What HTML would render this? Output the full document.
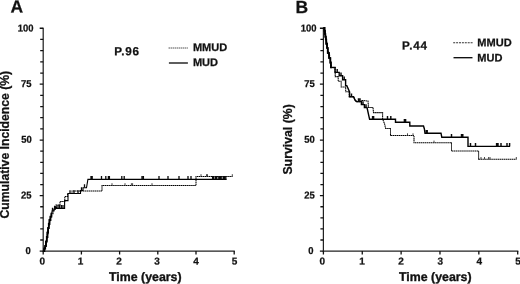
<!DOCTYPE html>
<html lang="en"><head><meta charset="utf-8"><title>Figure</title>
<style>
html,body{margin:0;padding:0;background:#fff;}
body{width:520px;height:284px;overflow:hidden;position:relative;}
</style></head><body>
<svg width="520" height="284" viewBox="0 0 520 284" style="display:block;position:absolute;left:0;top:0">
<rect width="520" height="284" fill="#fff"/>
<g font-family="'Liberation Sans', sans-serif" font-weight="bold" fill="#111" stroke="#111" stroke-width="0.25">
<g stroke="#222" stroke-width="1.25" fill="none">
<path d="M43.20,27.65 V251.70"/>
<path d="M42.60,251.10 H234.80"/>
</g>
<g stroke="#111" stroke-width="1.3" fill="none">
<path d="M39.70,251.10 H43.20 M40.20,240.01 H43.20 M40.20,228.92 H43.20 M40.20,217.83 H43.20 M40.20,206.74 H43.20 M39.70,195.63 H43.20 M40.20,184.53 H43.20 M40.20,173.41 H43.20 M40.20,162.29 H43.20 M40.20,151.16 H43.20 M39.70,140.03 H43.20 M40.20,128.88 H43.20 M40.20,117.72 H43.20 M40.20,106.56 H43.20 M40.20,95.39 H43.20 M39.70,84.21 H43.20 M40.20,73.03 H43.20 M40.20,61.84 H43.20 M40.20,50.64 H43.20 M40.20,39.45 H43.20 M39.70,28.25 H43.20 M43.20,251.10 V254.40 M81.40,251.10 V254.40 M119.60,251.10 V254.40 M157.80,251.10 V254.40 M196.00,251.10 V254.40 M234.20,251.10 V254.40"/>
</g>
<text x="30.80" y="253.90" font-size="10" text-anchor="end" textLength="5.25" lengthAdjust="spacingAndGlyphs" transform="rotate(0.03 30.80 253.90)">0</text>
<text x="31.60" y="198.43" font-size="10" text-anchor="end" textLength="10.51" lengthAdjust="spacingAndGlyphs" transform="rotate(0.03 31.60 198.43)">25</text>
<text x="31.80" y="142.83" font-size="10" text-anchor="end" textLength="10.51" lengthAdjust="spacingAndGlyphs" transform="rotate(0.03 31.80 142.83)">50</text>
<text x="31.60" y="87.01" font-size="10" text-anchor="end" textLength="10.51" lengthAdjust="spacingAndGlyphs" transform="rotate(0.03 31.60 87.01)">75</text>
<text x="33.50" y="31.55" font-size="10" text-anchor="end" textLength="15.76" lengthAdjust="spacingAndGlyphs" transform="rotate(0.03 33.50 31.55)">100</text>
<text x="42.20" y="264.40" font-size="10" text-anchor="middle" transform="rotate(0.03 42.20 264.40)">0</text>
<text x="80.50" y="264.40" font-size="10" text-anchor="middle" transform="rotate(0.03 80.50 264.40)">1</text>
<text x="119.00" y="264.40" font-size="10" text-anchor="middle" transform="rotate(0.03 119.00 264.40)">2</text>
<text x="157.00" y="264.40" font-size="10" text-anchor="middle" transform="rotate(0.03 157.00 264.40)">3</text>
<text x="196.00" y="264.40" font-size="10" text-anchor="middle" transform="rotate(0.03 196.00 264.40)">4</text>
<text x="234.60" y="264.40" font-size="10" text-anchor="middle" transform="rotate(0.03 234.60 264.40)">5</text>
<text x="145.30" y="280.90" font-size="12.35" text-anchor="middle" stroke-width="0.35" transform="rotate(0.03 145.30 280.90)">Time (years)</text>
<text transform="translate(9.0,144.7) rotate(-90)" font-size="12.2" text-anchor="middle">Cumulative Incidence (%)</text>
<g stroke="#222" stroke-width="1.25" fill="none">
<path d="M323.40,27.65 V251.70"/>
<path d="M322.80,251.10 H518.30"/>
</g>
<g stroke="#111" stroke-width="1.3" fill="none">
<path d="M319.90,251.10 H323.40 M320.40,240.01 H323.40 M320.40,228.92 H323.40 M320.40,217.83 H323.40 M320.40,206.74 H323.40 M319.90,195.63 H323.40 M320.40,184.53 H323.40 M320.40,173.41 H323.40 M320.40,162.29 H323.40 M320.40,151.16 H323.40 M319.90,140.03 H323.40 M320.40,128.88 H323.40 M320.40,117.72 H323.40 M320.40,106.56 H323.40 M320.40,95.39 H323.40 M319.90,84.21 H323.40 M320.40,73.03 H323.40 M320.40,61.84 H323.40 M320.40,50.64 H323.40 M320.40,39.45 H323.40 M319.90,28.25 H323.40 M323.40,251.10 V254.40 M362.26,251.10 V254.40 M401.12,251.10 V254.40 M439.98,251.10 V254.40 M478.84,251.10 V254.40 M517.70,251.10 V254.40"/>
</g>
<text x="313.40" y="253.90" font-size="10" text-anchor="end" textLength="5.25" lengthAdjust="spacingAndGlyphs" transform="rotate(0.03 313.40 253.90)">0</text>
<text x="314.70" y="198.43" font-size="10" text-anchor="end" textLength="10.51" lengthAdjust="spacingAndGlyphs" transform="rotate(0.03 314.70 198.43)">25</text>
<text x="314.70" y="142.83" font-size="10" text-anchor="end" textLength="10.51" lengthAdjust="spacingAndGlyphs" transform="rotate(0.03 314.70 142.83)">50</text>
<text x="314.80" y="87.01" font-size="10" text-anchor="end" textLength="10.51" lengthAdjust="spacingAndGlyphs" transform="rotate(0.03 314.80 87.01)">75</text>
<text x="316.50" y="31.55" font-size="10" text-anchor="end" textLength="15.76" lengthAdjust="spacingAndGlyphs" transform="rotate(0.03 316.50 31.55)">100</text>
<text x="322.30" y="264.40" font-size="10" text-anchor="middle" transform="rotate(0.03 322.30 264.40)">0</text>
<text x="361.96" y="264.40" font-size="10" text-anchor="middle" transform="rotate(0.03 361.96 264.40)">1</text>
<text x="401.12" y="264.40" font-size="10" text-anchor="middle" transform="rotate(0.03 401.12 264.40)">2</text>
<text x="440.28" y="264.40" font-size="10" text-anchor="middle" transform="rotate(0.03 440.28 264.40)">3</text>
<text x="479.24" y="264.40" font-size="10" text-anchor="middle" transform="rotate(0.03 479.24 264.40)">4</text>
<text x="518.00" y="264.40" font-size="10" text-anchor="middle" transform="rotate(0.03 518.00 264.40)">5</text>
<text x="435.30" y="280.90" font-size="12.35" text-anchor="middle" stroke-width="0.35" transform="rotate(0.03 435.30 280.90)">Time (years)</text>
<text transform="translate(292.3,139.4) rotate(-90)" font-size="12.3" text-anchor="middle">Survival (%)</text>
<text x="10.60" y="12.50" font-size="17.5" transform="rotate(0.03 10.60 12.50)">A</text>
<text x="295.40" y="13.00" font-size="17.5" transform="rotate(0.03 295.40 13.00)">B</text>
<text x="114.20" y="55.30" font-size="11.7" letter-spacing="0.8" transform="rotate(0.03 114.20 55.30)">P.96</text>
<text x="402.10" y="49.50" font-size="11.7" letter-spacing="0.8" transform="rotate(0.03 402.10 49.50)">P.44</text>
<path d="M168.6,48.0 h19.2" stroke="#333" stroke-width="0.95" stroke-dasharray="1.3 0.7" fill="none"/>
<path d="M168.9,63.0 h19" stroke="#111" stroke-width="1.35" fill="none"/>
<text x="192.90" y="51.10" font-size="11.05" transform="rotate(0.03 192.90 51.10)">MMUD</text>
<text x="192.90" y="66.00" font-size="11.05" transform="rotate(0.03 192.90 66.00)">MUD</text>
<path d="M453.2,42.7 h19.6" stroke="#333" stroke-width="1.15" stroke-dasharray="2 0.9" fill="none"/>
<path d="M453.5,57.7 h19" stroke="#111" stroke-width="1.35" fill="none"/>
<text x="477.30" y="46.20" font-size="11.05" transform="rotate(0.03 477.30 46.20)">MMUD</text>
<text x="477.30" y="61.40" font-size="11.05" transform="rotate(0.03 477.30 61.40)">MUD</text>
</g>
<polyline points="43.4,251.0 44.1,251.0 44.1,249.3 44.7,249.3 44.7,247.7 45.4,247.7 45.4,246.0 45.9,246.0 45.9,243.0 46.5,243.0 46.5,240.0 47.0,240.0 47.0,237.0 47.4,237.0 47.4,234.0 47.9,234.0 47.9,231.0 48.3,231.0 48.3,228.0 48.8,228.0 48.8,225.3 49.2,225.3 49.2,222.7 49.7,222.7 49.7,220.0 50.3,220.0 50.3,217.9 51.0,217.9 51.0,215.7 51.6,215.7 51.6,213.6 53.0,213.6 53.0,210.0 55.0,210.0 55.0,207.0 56.0,207.0 56.0,205.0 60.0,205.0 60.0,201.5 64.8,201.5 64.8,196.5 67.6,196.5 67.6,193.5 72.0,193.5 72.0,191.0 102.0,191.0 102.0,185.4 196.0,185.4 196.0,176.4 232.6,176.4" fill="none" stroke="#000" stroke-width="1.05" stroke-dasharray="1.5 0.45" stroke-linejoin="miter"/>
<polyline points="43.3,251.0 44.1,251.0 44.1,248.5 45.0,248.5 45.0,246.0 45.8,246.0 45.8,241.5 46.6,241.5 46.6,237.0 47.2,237.0 47.2,232.5 47.9,232.5 47.9,228.0 48.6,228.0 48.6,224.0 49.3,224.0 49.3,220.0 50.3,220.0 50.3,216.5 51.3,216.5 51.3,213.0 52.0,213.0 52.0,211.0 54.0,211.0 54.0,209.0 55.5,209.0 55.5,207.0 56.5,207.0 56.5,208.4 64.6,208.4 64.6,200.6 68.0,200.6 68.0,193.5 80.5,193.5 80.5,190.5 83.0,190.5 83.0,187.8 86.5,187.8 87.9,179.4 226.6,179.4" fill="none" stroke="#000" stroke-width="1.1" stroke-linejoin="miter"/>
<path d="M58.0,208.4 v-3.3 M59.6,208.4 v-3.3 M61.4,208.4 v-3.3 M63.0,208.4 v-3.3 M52.5,211.0 v-3.3 M54.6,209.0 v-3.3 M70.0,193.5 v-3.3 M74.0,193.5 v-3.3 M78.0,193.5 v-3.3 M81.5,190.5 v-3.3 M84.5,187.5 v-3.3 M91.0,179.4 v-3.3 M92.2,179.4 v-3.3 M101.5,179.4 v-3.3 M105.8,179.4 v-3.3 M108.4,179.4 v-3.3 M109.4,179.4 v-3.3 M121.8,179.4 v-3.3 M124.2,179.4 v-3.3 M142.0,179.4 v-3.3 M143.4,179.4 v-3.3 M159.0,179.4 v-3.3 M168.0,179.4 v-3.3 M179.0,179.4 v-3.3 M188.0,179.4 v-3.3 M191.0,179.4 v-3.3 M212.6,179.4 v-3.3 M213.8,179.4 v-3.3 M215.6,179.4 v-3.3 M216.8,179.4 v-3.3 M218.8,179.4 v-3.3 M220.0,179.4 v-3.3 M221.2,179.4 v-3.3 M223.2,179.4 v-3.3 M224.4,179.4 v-3.3 M225.8,179.4 v-3.3" stroke="#0a0a0a" stroke-width="1.3" fill="none"/>
<path d="M112.0,185.4 v-2.2 M125.0,185.4 v-2.2 M131.4,185.4 v-2.2 M132.6,185.4 v-2.2 M152.0,185.4 v-2.2 M201.0,176.4 v-2.2 M206.5,176.4 v-2.2 M207.5,176.4 v-2.2 M232.3,176.4 v-2.2" stroke="#333" stroke-width="0.9" fill="none"/>
<polyline points="43.5,251.0 44.4,251.0 44.4,248.5 45.2,248.5 45.2,246.0 46.0,246.0 46.0,241.5 46.8,241.5 46.8,237.0 47.5,237.0 47.5,232.5 48.1,232.5 48.1,228.0 48.8,228.0 48.8,224.0 49.5,224.0 49.5,220.0 50.5,220.0 50.5,216.6 51.4,216.6 51.4,213.2" fill="none" stroke="#000" stroke-width="1.8" stroke-linejoin="miter"/>
<polyline points="323.4,27.9 324.7,27.9 324.7,29.9 325.0,29.9 325.0,32.0 325.2,32.0 325.2,34.0 325.5,34.0 325.5,35.8 325.8,35.8 325.8,37.7 326.1,37.7 326.1,39.5 326.4,39.5 326.4,42.3 326.9,42.3 326.9,45.2 327.4,45.2 327.4,48.0 327.9,48.0 327.9,51.3 328.8,51.3 328.8,54.7 329.6,54.7 329.6,58.0 330.5,58.0 330.5,61.2 330.9,61.2 330.9,64.4 331.2,64.4 331.2,67.6 331.6,67.6 335.2,67.6 335.2,76.6 338.2,76.6 338.2,81.2 341.2,81.2 341.2,86.9 345.7,86.9 345.7,91.8 349.2,91.8 349.2,96.8 353.6,96.8 355.0,100.0 356.5,101.6 361.4,101.6 361.4,100.4 368.0,101.0 368.5,107.5 373.0,107.5 373.5,112.6 382.6,112.6 382.6,119.0 384.6,124.0 385.6,128.5 390.5,128.5 390.5,135.5 414.0,135.5 414.0,142.8 451.5,142.8 451.5,151.0 478.6,151.0 478.6,159.2 516.5,159.2" fill="none" stroke="#000" stroke-width="1.05" stroke-dasharray="1.5 0.45" stroke-linejoin="miter"/>
<polyline points="323.4,27.9 324.4,27.9 324.4,30.9 324.8,30.9 324.8,34.0 325.2,34.0 325.2,36.8 325.6,36.8 325.6,39.5 326.1,39.5 326.1,43.8 326.9,43.8 326.9,48.0 327.6,48.0 327.6,53.0 328.9,53.0 328.9,58.0 330.2,58.0 330.2,62.7 330.8,62.7 330.8,67.4 331.3,67.4 335.0,67.4 335.0,72.4 339.2,72.4 339.2,75.8 342.6,75.8 342.6,79.8 345.6,79.8 345.6,85.6 346.8,85.6 349.6,92.0 349.6,96.8 353.6,96.8 355.0,100.0 356.5,101.6 361.4,101.6 361.4,104.6 364.4,104.6 364.4,107.5 367.0,107.5 369.6,119.3 395.5,119.3 395.5,122.2 409.8,122.2 409.8,126.0 423.5,126.0 424.4,129.0 425.0,133.2 441.0,133.2 441.8,137.3 468.0,137.3 468.0,146.4 510.0,146.4" fill="none" stroke="#000" stroke-width="1.4" stroke-linejoin="miter"/>
<path d="M337.2,72.4 v-3.3 M341.0,75.8 v-3.3 M344.2,79.8 v-3.3 M351.5,96.8 v-3.3 M358.5,101.6 v-3.3 M360.0,101.6 v-3.3 M363.0,104.6 v-3.3 M366.0,107.5 v-3.3 M372.6,119.3 v-3.3 M373.6,119.3 v-3.3 M387.5,119.3 v-3.3 M390.8,119.3 v-3.3 M404.4,122.2 v-3.3 M405.6,122.2 v-3.3 M426.2,133.2 v-3.3 M427.2,133.2 v-3.3 M451.5,137.3 v-3.3 M461.5,137.3 v-3.3 M462.8,137.3 v-3.3 M470.5,146.4 v-3.3 M475.5,146.4 v-3.3 M496.6,146.4 v-3.3 M498.0,146.4 v-3.3 M501.0,146.4 v-3.3 M507.0,146.4 v-3.3 M509.6,146.4 v-3.3" stroke="#0a0a0a" stroke-width="1.45" fill="none"/>
<path d="M407.5,135.5 v-2.2 M413.0,135.5 v-2.2 M434.0,142.8 v-2.2 M481.0,159.2 v-2.2 M484.5,159.2 v-2.2 M488.6,159.2 v-2.2 M490.0,159.2 v-2.2 M516.3,159.2 v-2.2" stroke="#333" stroke-width="0.9" fill="none"/>
<polyline points="323.4,27.9 324.6,27.9 324.6,30.9 325.0,30.9 325.0,34.0 325.4,34.0 325.4,36.8 325.9,36.8 325.9,39.5 326.3,39.5 326.3,43.8 327.1,43.8 327.1,48.0 327.8,48.0 327.8,53.0 329.1,53.0 329.1,58.0 330.4,58.0 330.4,62.7 330.9,62.7 330.9,67.4 331.4,67.4" fill="none" stroke="#000" stroke-width="1.7" stroke-linejoin="miter"/>
</svg>
</body></html>
